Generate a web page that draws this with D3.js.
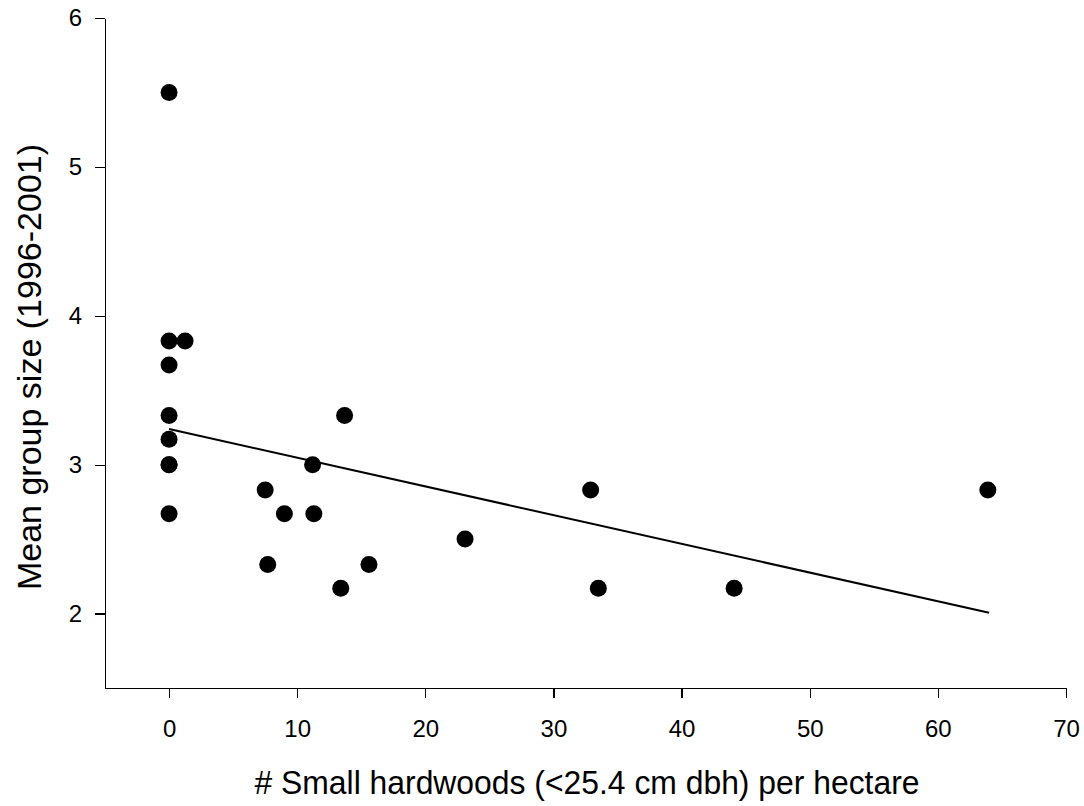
<!DOCTYPE html>
<html>
    <head>
        <meta charset="utf-8">
        <title>Group size vs small hardwoods</title>
        <script src="https://cdn.jsdelivr.net/npm/d3@7"></script>
        <style>
            body { margin: 0; background: #fff; }
            .axis path, .axis line {
                fill: none;
                stroke: black;
                stroke-width: 1.3;
                shape-rendering: crispEdges;
            }
            .axis text {
                font-family: "Liberation Sans", Arial, sans-serif;
                font-size: 24px;
                fill: black;
            }
            .title {
                font-family: "Liberation Sans", Arial, sans-serif;
                fill: black;
            }
        </style>
    </head>
    <body>
        <div id="splot"></div>
        <script>
            var width = 1084, height = 806;

            // hardwoods per hectare and mean group size
            var hardwoods = [0, 0, 1.25, 0, 0, 0, 0, 0, 0, 7.5, 7.7, 9.0, 11.2, 11.3, 13.7, 13.4, 15.6, 23.1, 32.9, 33.5, 44.1, 63.9];
            var groupSize = [5.5, 3.83, 3.83, 3.67, 3.33, 3.17, 3.0, 3.0, 2.67, 2.83, 2.33, 2.67, 3.0, 2.67, 3.33, 2.17, 2.33, 2.5, 2.83, 2.17, 2.17, 2.83];

            // fitted regression line end points
            var fitX = [0, 64];
            var fitY = [3.24, 2.005];

            var xTicks = [0, 10, 20, 30, 40, 50, 60, 70];
            var yTicks = [2, 3, 4, 5, 6];

            var svg = d3.select("#splot")
                .append("svg")
                .attr("width", width)
                .attr("height", height);

            var xScale = d3.scaleLinear()
                .domain([-5, 70])
                .range([105, 1066]);

            var yScale = d3.scaleLinear()
                .domain([1.5, 6])
                .range([688, 18]);

            var xAxis = d3.axisBottom(xScale)
                .tickValues(xTicks)
                .tickFormat(d3.format("d"))
                .tickSize(10)
                .tickSizeOuter(0)
                .tickPadding(22);

            var yAxis = d3.axisLeft(yScale)
                .tickValues(yTicks)
                .tickFormat(d3.format("d"))
                .tickSize(10)
                .tickSizeOuter(0)
                .tickPadding(13);

            svg.append("g")
                .attr("class", "axis")
                .attr("transform", "translate(0,688)")
                .call(xAxis);

            svg.append("g")
                .attr("class", "axis")
                .attr("transform", "translate(105,0)")
                .call(yAxis);

            // regression line
            var fit = fitX.map(function (d, i) { return [d, fitY[i]]; });
            svg.append("path")
                .datum(fit)
                .attr("fill", "none")
                .attr("stroke", "black")
                .attr("stroke-width", 2)
                .attr("d", d3.line()
                    .x(function (d) { return xScale(d[0]); })
                    .y(function (d) { return yScale(d[1]); }));

            svg.selectAll("circle")
                .data(hardwoods)
                .enter()
                .append("circle")
                .attr("cx", function (d) { return xScale(d); })
                .attr("cy", function (d, i) { return yScale(groupSize[i]); })
                .attr("r", 8.5)
                .attr("fill", "black");

            // axis titles
            svg.append("text")
                .attr("class", "title")
                .attr("x", 587)
                .attr("y", 794)
                .attr("text-anchor", "middle")
                .attr("font-size", 33)
                .attr("textLength", 665)
                .attr("lengthAdjust", "spacingAndGlyphs")
                .text("# Small hardwoods (<25.4 cm dbh) per hectare");

            svg.append("text")
                .attr("class", "title")
                .attr("transform", "translate(41,367) rotate(-90)")
                .attr("text-anchor", "middle")
                .attr("font-size", 34)
                .text("Mean group size (1996-2001)");
        </script>
    </body>
</html>
